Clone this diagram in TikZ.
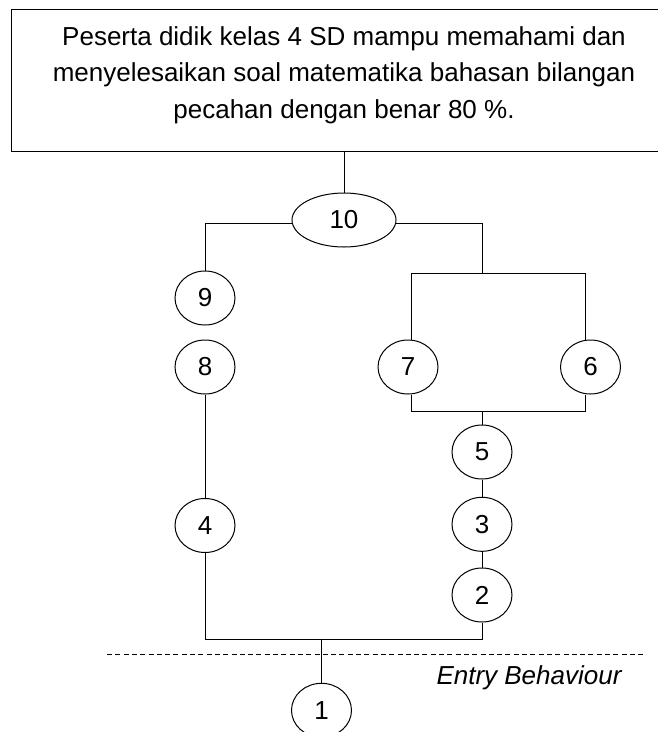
\documentclass[tikz,border=0pt]{standalone}
\usepackage{fontspec}
\setmainfont{Liberation Sans}
\usetikzlibrary{shapes.geometric}
\begin{document}
\begin{tikzpicture}[x=1pt,y=-1pt,
  line width=1pt,
  goalbox/.style={draw,rectangle,minimum width=666pt,minimum height=142.4pt,inner sep=0pt},
  goaltxt/.style={align=center,inner sep=0pt,font=\fontsize{26}{36.5}\selectfont},
  stepnode/.style={draw,ellipse,minimum width=60pt,minimum height=54pt,inner sep=0pt,font=\fontsize{26}{30}\selectfont},
  bigstep/.style={stepnode,minimum width=104pt},
  entryline/.style={dash pattern=on 5pt off 3.3pt},
  entrytxt/.style={font=\fontsize{26}{30}\selectfont\itshape,inner sep=0pt,anchor=base}
]
\useasboundingbox (0,0) rectangle (657,732);

% goal box
\node[goalbox] (goal) at (344,80.5) {};
\node[goaltxt] (goaltext) at ([yshift=5.5pt]goal.center)
  {Peserta didik kelas 4 SD mampu memahami dan\\
   menyelesaikan soal matematika bahasan bilangan\\
   pecahan dengan benar 80 \%.};

% nodes
\node[bigstep] (n10) at (344,220) {10};
\node[stepnode] (n9) at (205,298) {9};
\node[stepnode] (n8) at (205,367) {8};
\node[stepnode] (n7) at (408,367) {7};
\node[stepnode] (n6) at (590.5,367) {6};
\node[stepnode] (n5) at (482,452) {5};
\node[stepnode] (n4) at (205,525.5) {4};
\node[stepnode] (n3) at (482,524.3) {3};
\node[stepnode] (n2) at (482,595) {2};
\node[stepnode] (n1) at (321.5,710.3) {1};

% junction coordinates
\coordinate (tL) at (411,273.3);
\coordinate (tM) at (482,273.3);
\coordinate (tR) at (585,273.3);
\coordinate (bL) at (411,411.3);
\coordinate (bM) at (482,411.3);
\coordinate (bR) at (585,411.3);
\coordinate (jB) at (321.5,639.3);
\coordinate (dA) at (107,654.3);
\coordinate (dB) at (643,654.3);

% connectors
\draw (goal.south) -- (n10.north);
\draw (n10.184) -| (n9.north);
\draw (n10.356) -| (tM);
\draw (tL) -- (tR);
\draw (tL) -- (tL |- n7.north);
\draw (tR) -- (tR |- n6.north);
\draw (bL |- n7.south) -- (bL) -- (bR) -- (bR |- n6.south);
\draw (bM) -- (n5.north);
\draw (n5) -- (n3);
\draw (n3) -- (n2);
\draw (n8) -- (n4);
\draw (n4.south) |- (jB) -| (n2.south);
\draw (jB) -- (n1.north);

% entry behaviour line
\draw[entryline] (dA) -- (dB);
\node[entrytxt] (entry) at (529,684.3) {Entry Behaviour};
\end{tikzpicture}
\end{document}
